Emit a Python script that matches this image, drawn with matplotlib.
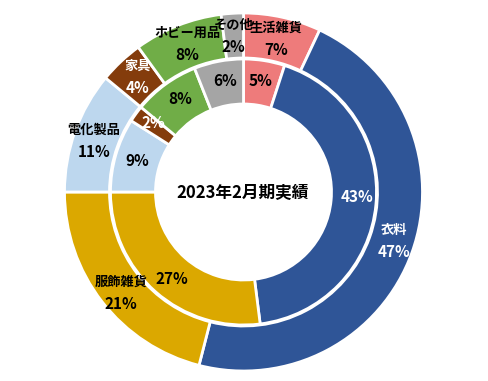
import numpy as np
import matplotlib
matplotlib.use("Agg")
import matplotlib.pyplot as plt

plt.rcParams['font.family'] = ['Noto Sans CJK JP', 'DejaVu Sans']

categories = ["生活雑貨", "衣料", "服飾雑貨", "電化製品", "家具", "ホビー用品", "その他"]
outer_pct = [7, 47, 21, 11, 4, 8, 2]
inner_pct = [5, 43, 27, 9, 2, 8, 6]
colors = ["#EE7B7B", "#2F5597", "#DBA800", "#BDD7EE", "#843C0C", "#70AD47", "#A5A5A5"]
outer_txt = ["black", "white", "black", "black", "white", "black", "black"]
inner_txt = ["black", "white", "black", "black", "white", "black", "black"]
title = "2023年2月期実績"

# small label nudges (pixels, x right / y up) to follow the original layout
outer_nudge = [(-1, 1), (4, 4), (1, -5), (-3, -2), (1, 1), (1, 3), (0, 0)]
inner_nudge = [(0, 1), (3, 5), (2, -4), (0, 0), (0, 4), (2, 3), (2, 2)]

fig = plt.figure(figsize=(4.88, 3.81), dpi=100)
ax = fig.add_axes([0, 0, 1, 1])

cx, cy = 243.5, 189
ax.pie(outer_pct, radius=179, center=(cx, cy), startangle=90, counterclock=False,
       colors=colors, wedgeprops=dict(width=45, edgecolor='white', linewidth=2))
ax.pie(inner_pct, radius=133, center=(cx, cy), startangle=90, counterclock=False,
       colors=colors, wedgeprops=dict(width=45, edgecolor='white', linewidth=2))
ax.set_xlim(0, 488)
ax.set_ylim(0, 381)
ax.set_aspect('equal')
ax.axis('off')

def mid_angles(vals):
    v = np.array(vals, dtype=float)
    c = np.cumsum(v) - v / 2
    return np.deg2rad(90 - c / v.sum() * 360)

for a, name, p, tc, (dx, dy) in zip(mid_angles(outer_pct), categories, outer_pct, outer_txt, outer_nudge):
    x = cx + 156 * np.cos(a) + dx
    y = cy + 156 * np.sin(a) + dy
    ax.text(x, y + 11, name, ha='center', va='center', fontsize=9.5,
            fontweight='bold', color=tc)
    ax.text(x, y - 11, f"{p}%", ha='center', va='center', fontsize=11,
            fontweight='bold', color=tc)

for a, p, tc, (dx, dy) in zip(mid_angles(inner_pct), inner_pct, inner_txt, inner_nudge):
    x = cx + 111 * np.cos(a) + dx
    y = cy + 111 * np.sin(a) + dy
    ax.text(x, y, f"{p}%", ha='center', va='center', fontsize=11,
            fontweight='bold', color=tc)

ax.text(cx - 1, cy - 1, title, ha='center', va='center', fontsize=12, fontweight='bold')

fig.savefig("out.png", dpi=100)
